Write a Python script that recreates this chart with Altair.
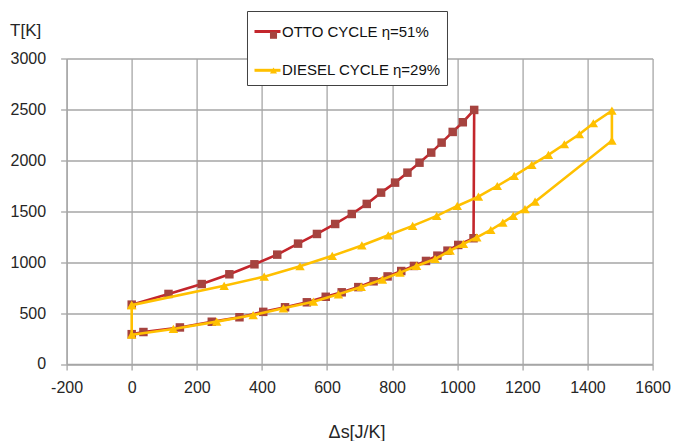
import altair as alt
import pandas as pd

FONT = "Liberation Sans"

OTTO = "OTTO CYCLE η=51%"
DIESEL = "DIESEL CYCLE η=29%"

# Otto cycle: upper branch then lower branch
otto_s_up = [0, 113, 215, 300, 377, 447, 511, 569, 625, 676, 722, 766, 809, 847, 884, 920, 952, 986, 1017, 1052]
otto_T_up = [583, 688, 785, 881, 979, 1074, 1182, 1277, 1375, 1473, 1572, 1683, 1781, 1879, 1977, 2076, 2174, 2279, 2374, 2495]
otto_s_low = [1050, 1003, 970, 939, 904, 867, 828, 786, 743, 696, 645, 596, 538, 471, 404, 331, 246, 148, 36, 0]
otto_T_low = [1235, 1169, 1113, 1064, 1012, 963, 913, 860, 812, 755, 704, 660, 606, 557, 512, 459, 415, 359, 314, 293]

# Diesel cycle: upper branch then lower branch
diesel_s_up = [0, 284, 407, 517, 616, 707, 788, 863, 937, 1000, 1065, 1123, 1175, 1229, 1280, 1329, 1375, 1418, 1475]
diesel_T_up = [578, 768, 858, 960, 1062, 1164, 1264, 1356, 1454, 1552, 1644, 1748, 1847, 1955, 2053, 2158, 2256, 2364, 2488]
diesel_s_low = [1475, 1239, 1208, 1172, 1140, 1103, 1060, 1019, 978, 932, 875, 824, 770, 705, 635, 558, 466, 373, 261, 128, 0]
diesel_T_low = [2193, 1594, 1520, 1454, 1388, 1316, 1244, 1179, 1113, 1031, 963, 897, 829, 757, 684, 612, 547, 481, 416, 344, 288]

x_ticks = list(range(-200, 1601, 200))
y_ticks = list(range(0, 3001, 500))

rows = []
for i, (s, t) in enumerate(zip(otto_s_up + otto_s_low, otto_T_up + otto_T_low)):
    rows.append({"series": OTTO, "marker": "otto", "idx": i, "s": s, "T": t})
d_s = diesel_s_up + diesel_s_low + [diesel_s_up[0]]
d_T = diesel_T_up + diesel_T_low + [diesel_T_up[0]]
for i, (s, t) in enumerate(zip(d_s, d_T)):
    rows.append({"series": DIESEL, "marker": "diesel", "idx": i, "s": s, "T": t})
df = pd.DataFrame(rows)

RED_LINE = "#C3262C"
RED_MARK = "#A6433F"
YELLOW = "#FFC000"

x_enc = alt.X("s:Q", scale=alt.Scale(domain=[-200, 1600], nice=False, zero=False),
              axis=alt.Axis(values=x_ticks, title="Δs[J/K]", labelFlush=False, labelOverlap=False,
                            labelExpr="'' + datum.value",
                            labelPadding=10, titleFontSize=18, titleX=290, titleY=74,
                            titleBaseline="alphabetic", titleAlign="center"))
y_enc = alt.Y("T:Q", scale=alt.Scale(domain=[0, 3000], nice=False),
              axis=alt.Axis(values=y_ticks, title="T[K]", labelFlush=False, labelOverlap=False,
                            labelExpr="'' + datum.value",
                            labelPadding=15, titleAngle=0, titleAlign="left", titleBaseline="middle",
                            titleX=-57, titleY=-28, titleFontSize=17))

leg_line = alt.Legend(title=None, orient="none", legendX=180.4, legendY=11 - 58.5,
                      strokeColor="#404040", fillColor="white", padding=6,
                      labelFont=FONT, labelFontSize=15, labelColor="#111111", labelOffset=0,
                      symbolType="stroke", symbolSize=676, symbolStrokeWidth=3, rowPadding=15.8)
leg_mark = alt.Legend(title=None, orient="none", legendX=194.4, legendY=-35.75, padding=5,
                      labelFont=FONT, labelFontSize=15, labelExpr="''",
                      symbolSize=50, symbolOpacity=1, rowPadding=19.3)

color_scale = alt.Scale(domain=[OTTO, DIESEL], range=[RED_LINE, YELLOW])
fill_scale = alt.Scale(domain=["otto", "diesel"], range=[RED_MARK, YELLOW])
shape_scale = alt.Scale(domain=["otto", "diesel"], range=["square", "triangle-up"])

base = alt.Chart(df)


def layers(name, size):
    sub = base.transform_filter(alt.datum.series == name)
    line = sub.mark_line(strokeWidth=2.6).encode(
        x=x_enc, y=y_enc, order="idx:Q",
        color=alt.Color("series:N", scale=color_scale, legend=leg_line),
    )
    pts = sub.mark_point(filled=True, size=size, opacity=1).encode(
        x=x_enc, y=y_enc,
        fill=alt.Fill("marker:N", scale=fill_scale, legend=leg_mark),
        shape=alt.Shape("marker:N", scale=shape_scale, legend=leg_mark),
    )
    return [line, pts]


chart = alt.layer(*layers(OTTO, 72), *layers(DIESEL, 90)).properties(
    width=586, height=305.5,
    autosize=alt.AutoSizeParams(type="none"),
    padding={"left": 66.6, "top": 58.5, "right": 20, "bottom": 77},
).configure_view(stroke=None).configure_axis(
    gridColor="#a6a6a6", gridWidth=1.3, domainColor="#a6a6a6", domainWidth=1.3,
    tickColor="#a6a6a6", tickWidth=1.3, tickSize=6,
    labelFont=FONT, labelFontSize=16, labelColor="#262626",
    titleFont=FONT, titleFontWeight="normal", titleColor="#262626",
)

chart.save("out.html", embed_options={"renderer": "svg", "actions": False})
